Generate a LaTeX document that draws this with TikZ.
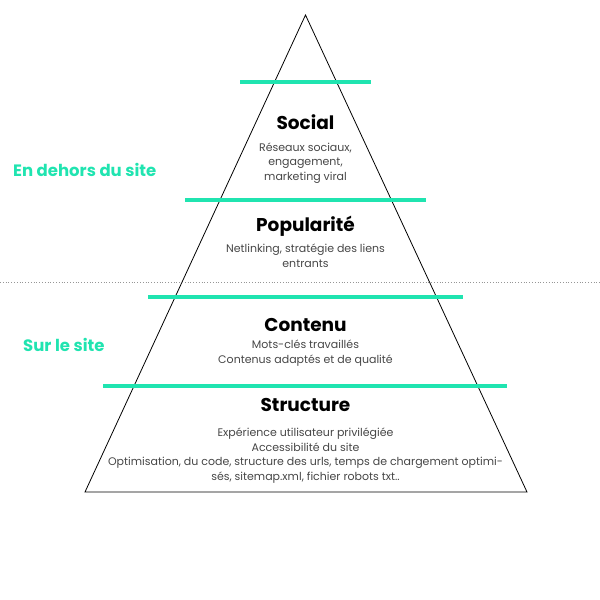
\documentclass[tikz,border=0pt]{standalone}
\usepackage{fontspec}
\setmainfont{Poppins}
\usetikzlibrary{positioning}
\definecolor{mygreen}{RGB}{32, 228, 176}
\definecolor{mygray1}{RGB}{70, 70, 70}
\definecolor{mygray2}{RGB}{150, 150, 150}

\begin{document}
\begin{tikzpicture}[
    x = 1pt, y = -1pt,
    inner sep = 0pt,
    bar/.style = {line width = 4pt, mygreen},
    level/.style = {font = \fontsize{18.5}{22}\selectfont\bfseries, anchor = base},
    desc/.style = {font = \fontsize{11}{14.5}\selectfont, text = mygray1, align = center, anchor = base},
    side/.style = {font = \fontsize{16.5}{20}\selectfont\bfseries, text = mygreen, anchor = base west}
]
\useasboundingbox (0,0) rectangle (600,600);

% pyramid
\coordinate (top) at (305.5, 15);
\coordinate (bl) at (85, 492);
\coordinate (br) at (527, 492);
\draw[line width = 0.8pt, line join = miter] (top) -- (br) -- (bl) -- cycle;

\draw[mygray2, dotted, line width = 0.8pt] (0, 282) -- (600, 282);

\draw[bar] (240, 82) -- (371, 82);
\draw[bar] (185, 200) -- (426, 200);
\draw[bar] (148, 297) -- (463, 297);
\draw[bar] (103, 386) -- (507, 386);

\node[side] (outside) at (13, 176) {En dehors du site};
\node[side] (inside) at (23, 351) {Sur le site};

% the base of a text of several lines is that of its last line
\node[level] (social) at (305.5, 129.5) {Social};
\node[desc] (socialtxt) at (305.5, 180) {Réseaux sociaux,\\ engagement,\\ marketing viral};

\node[level] (popular) at (305.5, 231) {Popularité};
\node[desc] (populartxt) at (305.5, 267) {Netlinking, stratégie des liens\\ entrants};

\node[level] (content) at (305.5, 331) {Contenu};
\node[desc] (contenttxt) at (305.5, 363) {Mots-clés travaillés\\ Contenus adaptés et de qualité};

\node[level] (struct) at (305.5, 411.5) {Structure};
\node[desc] (structtxt) at (305.5, 480) {Expérience utilisateur privilégiée\\ Accessibilité du site\\ Optimisation, du code, structure des urls, temps de chargement optimi-\\ sés, sitemap.xml, fichier robots txt..};

\end{tikzpicture}
\end{document}
